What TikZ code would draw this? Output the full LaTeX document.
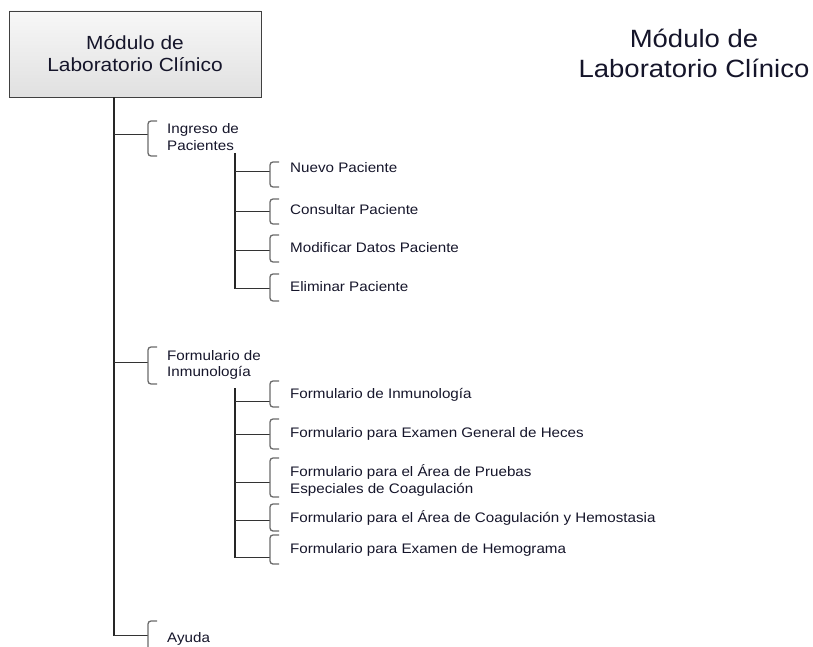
\documentclass[tikz,border=0pt]{standalone}
\usepackage{fontspec}
\setmainfont[FakeStretch=1.1]{Liberation Sans}
\usetikzlibrary{positioning}
\definecolor{ink}{HTML}{15152A}
\definecolor{bracketgray}{HTML}{6A6A6A}
\tikzset{
  rootbox/.style={draw=black!75, line width=0.9pt, top color=gray!6, bottom color=gray!24,
    minimum width=252pt, minimum height=86pt, align=center, font=\fontsize{19}{22}\selectfont, text=ink},
  title/.style={align=center, font=\fontsize{25}{30}\selectfont, text=ink},
  item/.style={anchor=west, align=left, inner sep=0pt, font=\fontsize{13.8}{16.5}\selectfont, text=ink},
  trunk/.style={draw=black!85, line width=1.1pt},
  branch/.style={draw=black!80, line width=1pt},
  bracket/.style={draw=bracketgray, line width=1.3pt, rounded corners=3pt},
}
% bracket: x, top, bottom
\newcommand{\openbracket}[3]{\draw[bracket] (#1+9,#2) -- (#1,#2) -- (#1,#3) -- (#1+9,#3);}
\begin{document}
\begin{tikzpicture}[x=1pt,y=-1pt]
\useasboundingbox (0,0) rectangle (813,647);

% root and title
\node[rootbox] (root) at (135,54) {Módulo de\\Laboratorio Clínico};
\node[title] (title) at (694,53) {Módulo de\\Laboratorio Clínico};

% first-level items
\node[item] (ingreso) at (167,137) {Ingreso de\\Pacientes};
\node[item] (formularios) at (167,365) {Formulario de\\Inmunología};
\node[item] (ayuda) at (167,639) {Ayuda};

% second-level items under Ingreso de Pacientes
\node[item] (nuevo) at (290,168) {Nuevo Paciente};
\node[item] (consultar) at (290,210) {Consultar Paciente};
\node[item] (modificar) at (290,248) {Modificar Datos Paciente};
\node[item] (eliminar) at (290,287) {Eliminar Paciente};

% second-level items under Formulario de Inmunología
\node[item] (inmuno) at (290,395) {Formulario de Inmunología};
\node[item] (heces) at (290,434) {Formulario para Examen General de Heces};
\node[item] (pruebas) at (290,480.5) {Formulario para el Área de Pruebas\\Especiales de Coagulación};
\node[item] (coag) at (290,518) {Formulario para el Área de Coagulación y Hemostasia};
\node[item] (hemo) at (290,550) {Formulario para Examen de Hemograma};

% main trunk
\coordinate (t1) at (114,135);
\coordinate (t2) at (114,362);
\coordinate (t3) at (114,635);
\draw[trunk] (root.south -| t1) -- (114,636);
\draw[branch] (t1) -- (148,135);
\draw[branch] (t2) -- (148,362);
\draw[branch] (t3) -- (148,635);
\openbracket{148}{121}{156}
\openbracket{148}{347}{384}
\draw[bracket] (157,621) -- (148,621) -- (148,660);

% sub-trunk for Ingreso de Pacientes
\coordinate (s1) at (235,153);
\draw[trunk] (s1) -- (235,288.5);
\foreach \y/\a/\b in {172/162/187, 211/199/224, 250/235/262, 288/274/301}{
  \draw[branch] (235,\y) -- (270,\y);
  \openbracket{270}{\a}{\b}
}

% sub-trunk for Formulario de Inmunología
\coordinate (s2) at (235,388);
\draw[trunk] (s2) -- (235,557.5);
\foreach \y/\a/\b in {401/381/407, 434/419/449, 482/458/497, 520/504/531, 557/535/564}{
  \draw[branch] (235,\y) -- (270,\y);
  \openbracket{270}{\a}{\b}
}
\end{tikzpicture}
\end{document}
